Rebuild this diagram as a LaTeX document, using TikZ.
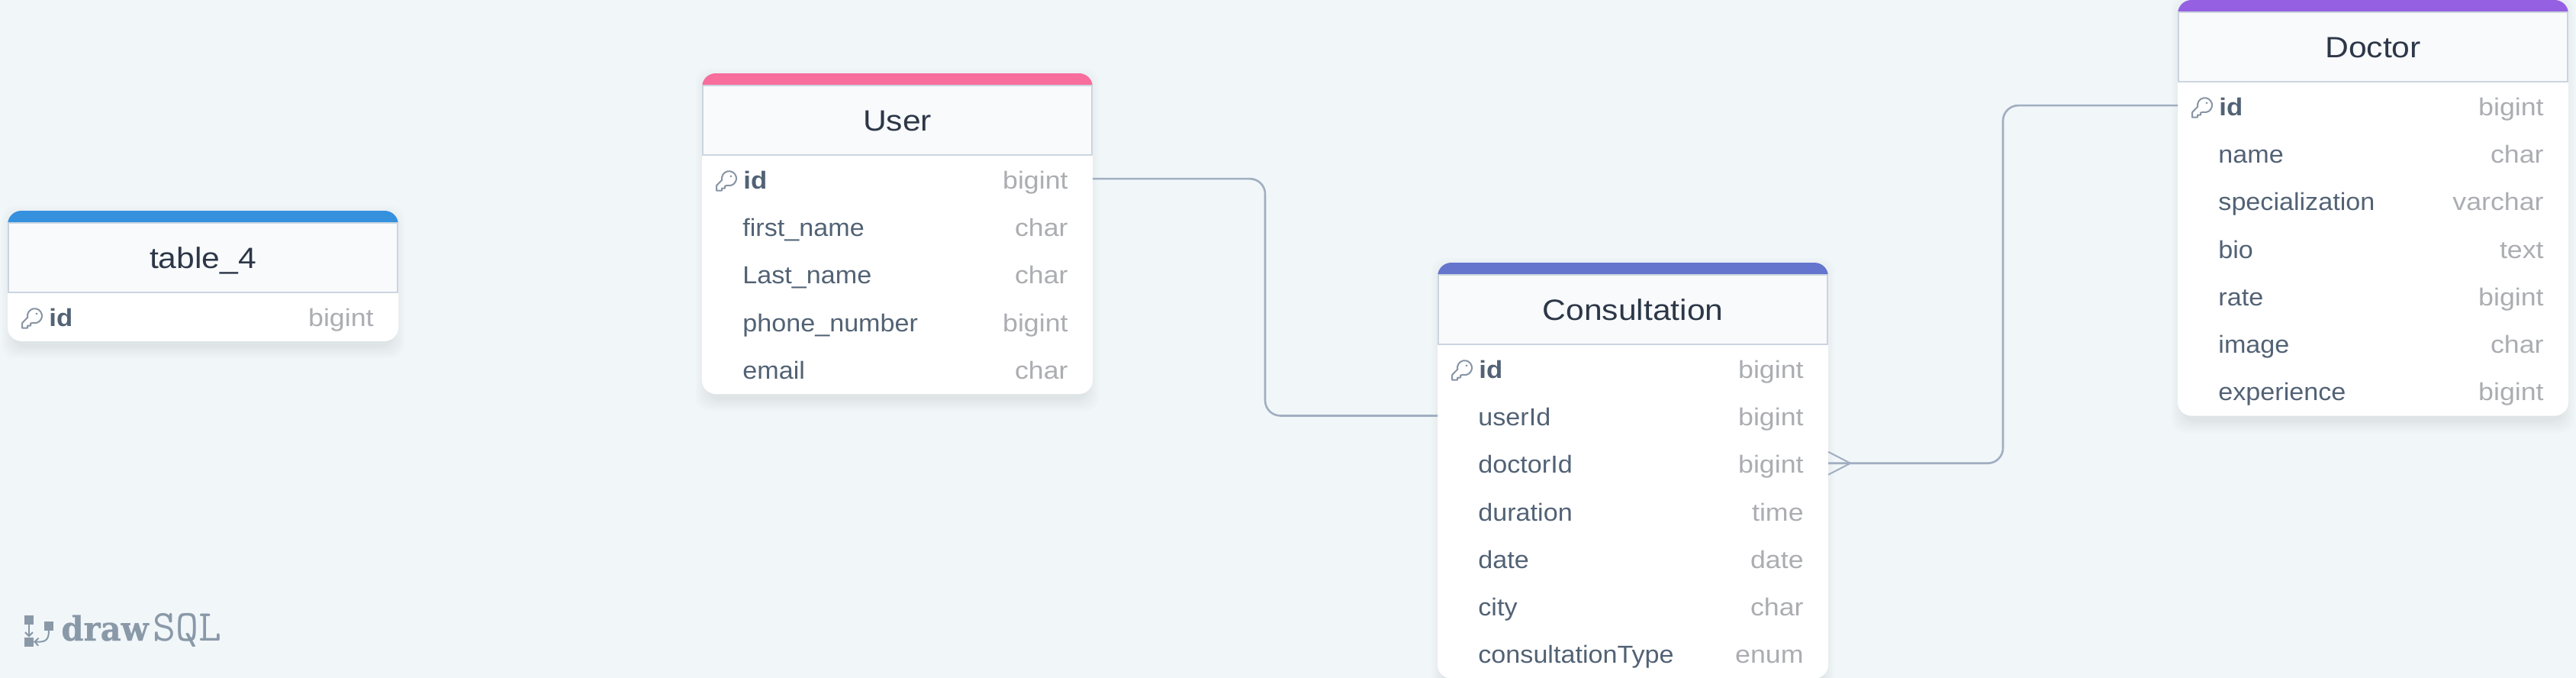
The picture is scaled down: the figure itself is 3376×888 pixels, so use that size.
\documentclass[tikz,border=0pt]{standalone}
\usepackage{fontspec}
\usetikzlibrary{arrows.meta,calc}
\newfontfamily\namefont[FakeStretch=1.06]{Liberation Sans}
\newfontfamily\idfont[FakeStretch=1.08]{Liberation Sans Bold}
\newfontfamily\typefont[FakeStretch=1.11]{Liberation Sans}
\newfontfamily\titlefont[FakeStretch=1.11]{Liberation Sans}
\newfontfamily\logobold[FakeStretch=0.95,FakeBold=0.6]{DejaVu Serif Bold}
\setmonofont{Latin Modern Mono}
\definecolor{canvas}{HTML}{F1F6F9}
\definecolor{hdrfill}{HTML}{F8FAFC}
\definecolor{hdrline}{HTML}{CBD5E0}
\definecolor{titlecol}{HTML}{2D3748}
\definecolor{rowcol}{HTML}{526275}
\definecolor{typecol}{HTML}{ABADB1}
\definecolor{relcol}{HTML}{A0AEC0}
\definecolor{keycol}{HTML}{8795A5}
\definecolor{logocol}{HTML}{8A99A8}
\definecolor{barblue}{HTML}{3590DE}
\definecolor{barpink}{HTML}{F76D9B}
\definecolor{barindigo}{HTML}{6574CD}
\definecolor{barpurple}{HTML}{9561E2}
\tikzset{
  card/.style={rectangle,fill=white,rounded corners=9pt,minimum width=256pt,inner sep=0pt,outer sep=0pt,anchor=north west},
  headbox/.style={rectangle,fill=hdrfill,draw=hdrline,line width=1pt,minimum width=255pt,minimum height=45.5pt,inner sep=0pt,outer sep=0pt},
  titletext/.style={anchor=base,inner sep=0pt,text=titlecol,font=\titlefont\fontsize{19.2}{19.2}\selectfont},
  rowband/.style={rectangle,minimum width=256pt,minimum height=31pt,inner sep=0pt,outer sep=0pt},
  rowname/.style={anchor=base west,inner sep=0pt,text=rowcol,font=\namefont\fontsize{16.1}{16.1}\selectfont},
  rowid/.style={anchor=base west,inner sep=0pt,text=rowcol,font=\idfont\fontsize{16.1}{16.1}\selectfont},
  rowtype/.style={anchor=base east,inner sep=0pt,text=typecol,font=\typefont\fontsize{16.1}{16.1}\selectfont},
  rel/.style={draw=relcol,line width=1.3pt,rounded corners=10pt},
  crow/.style={draw=relcol,line width=1pt},
  logobox/.style={rectangle,fill=logocol,inner sep=0pt,outer sep=0pt,minimum width=6pt,minimum height=6pt},
  logoline/.style={draw=logocol,line width=1pt,-{Straight Barb[length=2.5pt,width=5pt]}},
  keyicon/.pic={
    \draw[keycol,line width=1pt,line join=round,line cap=round]
      (8.2,11.5) arc[start angle=168,end angle=466,radius=9.5] -- (12,19.5) -- (12,22.5) -- (8,22.5) -- (8,25.5) -- (1,25.5) -- (1,19) -- cycle;
    \fill[keycol] (20,6.7) circle[radius=1.5];
  }
}
% key, left, top, bar colour, title, rows
\newcommand{\dbtable}[6]{%
  \pgfmathsetmacro{\tl}{#2}
  \pgfmathsetmacro{\tt}{#3}
  \pgfmathsetmacro{\hb}{\tt+107}
  \pgfmathsetmacro{\hc}{\tt+61.5}
  \pgfmathsetmacro{\mx}{\tl+256}
  \def\rowcount{0}
  \foreach \n/\t in {#6} {\pgfmathsetmacro{\rc}{int(\rowcount+1)}\global\let\rowcount\rc}
  \pgfmathsetmacro{\cardh}{(108.5+62.3*\rowcount)/2}
  \foreach \e in {14,11,8,5,2,0} {
    \fill[black,opacity=0.011,rounded corners=9pt] (\tl-\e+6,\tt+8-\e) rectangle (\tl+506+\e,\hb+62.3*\rowcount+1.5+8+\e);
  }
  \node[card,minimum height=\cardh pt] (#1) at (\tl,\tt) {};
  \begin{scope}
    \clip[rounded corners=9pt] (\tl,\tt) rectangle (\tl+512,\tt+40);
    \fill[#4] (\tl,\tt) rectangle (\tl+512,\tt+16);
  \end{scope}
  \node[headbox] (#1-head) at (\mx,\hc) {};
  \node[titletext] (#1-title) at (\mx,\hc+14) {#5};
  \foreach \n/\t [count=\i] in {#6} {
    \pgfmathsetmacro{\by}{\hb+62.3*(\i-0.5)}
    \node[rowband] (#1-r\i) at (\mx,\by) {};
    \ifnum\i=1
      \pic at (\tl+18,\by-10) {keyicon};
      \node[rowid] (#1-r\i-name) at (\tl+54,\by+13) {\n};
    \else
      \node[rowname] (#1-r\i-name) at (\tl+53,\by+13) {\n};
    \fi
    \node[rowtype] (#1-r\i-type) at (\tl+480,\by+13) {\t};
  }
}
\begin{document}
\begin{tikzpicture}[x=0.5pt,y=-0.5pt]
\useasboundingbox (0,0) rectangle (3376,888);
\clip (0,0) rectangle (3376,888);
\fill[canvas] (0,0) rectangle (3376,888);

\dbtable{tfour}{10}{276}{barblue}{table\_4}{id/bigint}
\dbtable{user}{920}{96}{barpink}{User}{id/bigint,first\_name/char,Last\_name/char,phone\_number/bigint,email/char}
\dbtable{cons}{1884}{344}{barindigo}{Consultation}{id/bigint,userId/bigint,doctorId/bigint,duration/time,date/date,city/char,consultationType/enum}
\dbtable{doc}{2854}{0}{barpurple}{Doctor}{id/bigint,name/char,specialization/varchar,bio/text,rate/bigint,image/char,experience/bigint}

% connectors
\coordinate (elbowa) at (1658,400);
\coordinate (elbowb) at (2625,400);
\draw[rel] (user-r1.east) -- (elbowa |- user-r1.east) -- (elbowa |- cons-r2.west) -- (cons-r2.west);
\draw[rel] (cons-r3.east) -- (elbowb |- cons-r3.east) -- (elbowb |- doc-r1.west) -- (doc-r1.west);
\coordinate (crowtip) at ($(cons-r3.east)+(29,0)$);
\coordinate (crowup) at ($(cons-r3.east)+(0,-15)$);
\coordinate (crowdown) at ($(cons-r3.east)+(0,15)$);
\draw[crow] (crowup) -- (crowtip) -- (crowdown);

% logo
\node[logobox] (logoa) at (38,811.5) {};
\node[logobox] (logob) at (38,840.5) {};
\node[logobox] (logoc) at (64,820) {};
\draw[logoline] (logoa.south) -- (logob.north);
\draw[logoline] (logoc.south) .. controls (64,840) and (58,841) .. (logob.east);
\node[anchor=base west,inner sep=0pt,text=logocol,font=\logobold\fontsize{22}{22}\selectfont] (logodraw) at (80,839) {draw};
\node[anchor=base west,inner sep=0pt,text=logocol,font=\ttfamily\fontsize{29}{29}\selectfont] (logosql) at (200,839) {SQL};
\end{tikzpicture}
\end{document}
